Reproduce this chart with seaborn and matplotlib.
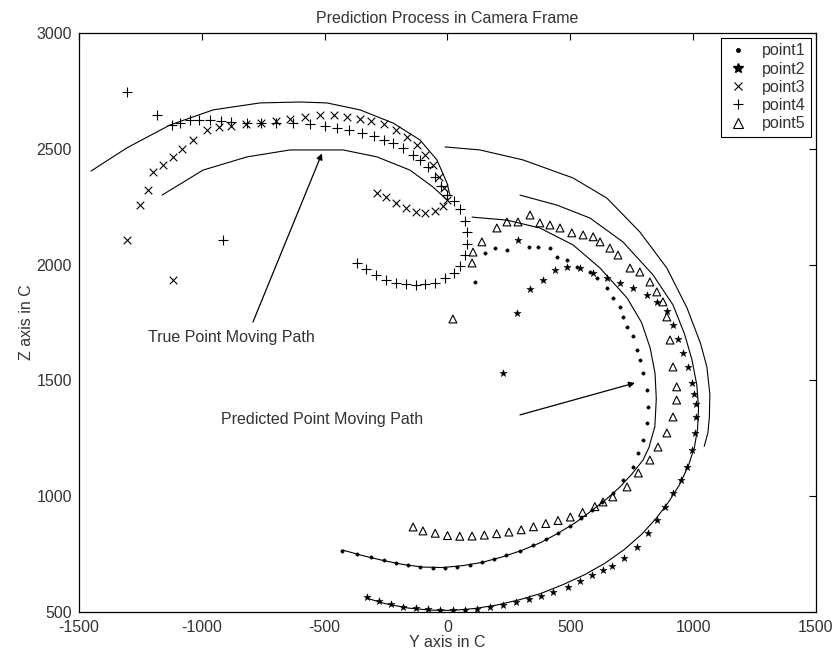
import matplotlib
matplotlib.use("Agg")
import matplotlib.pyplot as plt
import seaborn as sns
import pandas as pd
from matplotlib.lines import Line2D

# ---------------- data (Y axis in C, Z axis in C) ----------------
# true moving paths (solid lines)
true1_y = [100, 242, 376, 511, 621, 731, 790, 825, 845, 850, 844, 820, 796, 750, 702, 650, 590, 520, 450, 380, 300, 220, 140, 60, -20, -100, -180, -260, -340, -429]
true1_z = [2205, 2192, 2158, 2085, 1985, 1856, 1750, 1640, 1530, 1420, 1300, 1210, 1156, 1095, 1040, 990, 940, 885, 840, 800, 765, 737, 714, 700, 692, 694, 705, 722, 742, 768]
true2_y = [295, 445, 580, 714, 837, 918, 965, 995, 1015, 1022, 1018, 1005, 980, 945, 900, 850, 790, 720, 640, 560, 470, 380, 290, 200, 110, 20, -70, -160, -250, -330]
true2_z = [2300, 2257, 2201, 2098, 1955, 1826, 1700, 1590, 1480, 1380, 1290, 1210, 1130, 1050, 975, 905, 835, 770, 710, 662, 618, 580, 552, 530, 515, 507, 508, 517, 535, 560]
true3_y = [-1451, -1305, -1129, -954, -763, -600, -491, -356, -221, -112, -43, -2, 10]
true3_z = [2404, 2504, 2603, 2668, 2698, 2702, 2698, 2668, 2611, 2538, 2452, 2352, 2300]
true4_y = [-1162, -995, -816, -641, -425, -287, -153, -59, -2]
true4_z = [2300, 2408, 2465, 2495, 2495, 2465, 2408, 2335, 2279]
true5_y = [-10, 132, 307, 511, 649, 783, 893, 975, 1030, 1056, 1068, 1066, 1060, 1045]
true5_z = [2508, 2495, 2452, 2374, 2287, 2141, 1985, 1813, 1660, 1558, 1440, 1340, 1273, 1215]

# predicted points (markers)
p1_y = [112, 153, 193, 242, 330, 368, 417, 445, 486, 527, 580, 608, 649, 673, 702, 714, 730, 755, 771, 783, 796, 811, 816, 811, 796, 777, 755, 714, 673, 630, 590, 545, 498, 450, 400, 350, 295, 240, 190, 140, 92, 40, -10, -60, -110, -160, -210, -260, -310, -370, -429]
p1_z = [1925, 2050, 2071, 2063, 2076, 2076, 2071, 2033, 2020, 1990, 1968, 1942, 1899, 1856, 1817, 1774, 1731, 1690, 1631, 1588, 1532, 1459, 1385, 1316, 1243, 1187, 1126, 1070, 1014, 975, 940, 905, 870, 840, 815, 790, 765, 745, 728, 714, 703, 695, 690, 690, 695, 702, 712, 725, 738, 752, 765]
p2_y = [226, 283, 289, 336, 389, 437, 486, 540, 593, 649, 702, 755, 811, 852, 893, 918, 940, 959, 980, 995, 1005, 1010, 1010, 1007, 995, 974, 950, 918, 885, 852, 815, 771, 720, 670, 633, 590, 540, 490, 430, 380, 330, 280, 226, 175, 120, 70, 22, -30, -80, -130, -181, -230, -280, -328]
p2_z = [1532, 1791, 2106, 1895, 1933, 1977, 1990, 1985, 1964, 1942, 1920, 1899, 1869, 1839, 1800, 1740, 1680, 1620, 1558, 1490, 1440, 1400, 1340, 1273, 1200, 1126, 1070, 1014, 955, 897, 840, 781, 735, 700, 681, 660, 635, 610, 587, 570, 555, 542, 530, 520, 515, 510, 509, 510, 512, 516, 522, 533, 548, 565]
p3_y = [-287, -250, -210, -170, -130, -90, -50, -20, 0, -15, -35, -60, -90, -125, -165, -210, -260, -310, -356, -410, -460, -519, -580, -640, -700, -760, -820, -880, -930, -979, -1036, -1080, -1117, -1160, -1198, -1218, -1251, -1305, -1117]
p3_z = [2309, 2290, 2265, 2245, 2228, 2222, 2232, 2252, 2280, 2330, 2380, 2430, 2475, 2515, 2550, 2580, 2605, 2620, 2630, 2638, 2644, 2646, 2638, 2628, 2620, 2612, 2606, 2600, 2592, 2581, 2538, 2500, 2465, 2430, 2400, 2322, 2257, 2106, 1933]
p4_y = [-368, -330, -290, -250, -210, -170, -130, -90, -50, -10, 25, 50, 70, 80, 80, 70, 50, 25, 0, -25, -50, -80, -110, -140, -180, -220, -260, -300, -350, -400, -450, -500, -560, -629, -700, -760, -816, -880, -920, -967, -1010, -1048, -1090, -1121, -1182, -1305, -913]
p4_z = [2007, 1980, 1955, 1935, 1922, 1915, 1913, 1915, 1922, 1940, 1965, 1995, 2040, 2090, 2140, 2190, 2240, 2275, 2300, 2340, 2380, 2420, 2450, 2475, 2505, 2525, 2540, 2555, 2570, 2580, 2590, 2600, 2605, 2611, 2612, 2612, 2611, 2615, 2620, 2624, 2625, 2624, 2612, 2603, 2646, 2745, 2106]
p5_y = [22, 100, 104, 140, 201, 242, 287, 336, 376, 417, 458, 506, 552, 593, 621, 661, 694, 743, 783, 824, 852, 877, 893, 906, 918, 933, 933, 918, 893, 857, 824, 777, 731, 673, 633, 600, 550, 500, 450, 400, 350, 300, 250, 200, 150, 100, 50, 0, -50, -100, -140]
p5_z = [1765, 2007, 2054, 2098, 2158, 2184, 2184, 2214, 2180, 2171, 2158, 2137, 2128, 2120, 2098, 2071, 2041, 1985, 1968, 1925, 1882, 1839, 1774, 1674, 1558, 1472, 1415, 1342, 1273, 1212, 1156, 1100, 1040, 997, 975, 955, 930, 910, 895, 882, 868, 855, 845, 838, 832, 828, 827, 830, 840, 850, 867]

series_names = ["point1", "point2", "point3", "point4", "point5"]
x_ticks = [-1500, -1000, -500, 0, 500, 1000, 1500]
y_ticks = [500, 1000, 1500, 2000, 2500, 3000]

# ---------------- style ----------------
sns.set_style("white")
plt.rcParams["font.family"] = ["Liberation Sans", "DejaVu Sans"]
plt.rcParams["axes.unicode_minus"] = False
FS = 11.5
TXT = "#333333"

fig = plt.figure(figsize=(8.38, 6.57), dpi=100)
ax = fig.add_axes([0.0943, 0.0685, 0.8794, 0.8813])

# true paths
for ty, tz in [(true1_y, true1_z), (true2_y, true2_z), (true3_y, true3_z),
               (true4_y, true4_z), (true5_y, true5_z)]:
    df = pd.DataFrame({"y": ty, "z": tz})
    sns.lineplot(data=df, x="y", y="z", sort=False, estimator=None,
                 color="black", linewidth=0.8, ax=ax)

# predicted markers
marker_specs = [
    ("point1", p1_y, p1_z, "o", 6),
    ("point2", p2_y, p2_z, "*", 30),
    ("point3", p3_y, p3_z, "x", 30),
    ("point4", p4_y, p4_z, "+", 50),
    ("point5", p5_y, p5_z, "^", 32),
]
for name, my, mz, mk, sz in marker_specs:
    df = pd.DataFrame({"y": my, "z": mz})
    if mk in ("x", "+"):
        sns.scatterplot(data=df, x="y", y="z", marker=mk, s=sz, color="black",
                        linewidth=0.8, ax=ax)
    elif mk == "^":
        sns.scatterplot(data=df, x="y", y="z", marker=mk, s=sz, color="white",
                        edgecolor="black", linewidth=0.8, ax=ax)
        ax.collections[-1].set_facecolor("none")
    else:
        sns.scatterplot(data=df, x="y", y="z", marker=mk, s=sz, color="black",
                        edgecolor="black", linewidth=0.3, ax=ax)

# annotations
ax.text(-1219, 1687, "True Point Moving Path", fontsize=FS, va="center",
        ha="left", color=TXT)
ax.annotate("", xy=(-511, 2480), xytext=(-792, 1752),
            arrowprops=dict(arrowstyle="-|>", color="black", lw=0.9,
                            mutation_scale=9, shrinkA=0, shrinkB=0))
ax.text(-922, 1329, "Predicted Point Moving Path", fontsize=FS, va="center",
        ha="left", color=TXT)
ax.annotate("", xy=(763, 1489), xytext=(295, 1351),
            arrowprops=dict(arrowstyle="-|>", color="black", lw=0.9,
                            mutation_scale=9, shrinkA=0, shrinkB=0))

# axes
ax.set_xlim(-1500, 1500)
ax.set_ylim(500, 3000)
ax.set_xticks(x_ticks)
ax.set_yticks(y_ticks)
ax.set_xticklabels([str(v) for v in x_ticks])
ax.set_yticklabels([str(v) for v in y_ticks])
ax.tick_params(direction="in", top=True, right=True, length=5, width=0.8,
               labelsize=FS, colors="black", labelcolor=TXT)
ax.tick_params(axis="x", pad=6)
ax.tick_params(axis="y", pad=5)
for sp in ax.spines.values():
    sp.set_color("black")
    sp.set_linewidth(0.9)
ax.set_xlabel("Y axis in C", fontsize=FS, labelpad=0, color=TXT)
ax.set_ylabel("Z axis in C", fontsize=FS, labelpad=2, color=TXT)
ax.set_title("Prediction Process in Camera Frame", fontsize=FS, pad=7, color=TXT)

# legend
handles = [
    Line2D([], [], linestyle="none", marker="o", markersize=2.5, color="black"),
    Line2D([], [], linestyle="none", marker="*", markersize=7, color="black"),
    Line2D([], [], linestyle="none", marker="x", markersize=5.5, color="black", markeredgewidth=0.8),
    Line2D([], [], linestyle="none", marker="+", markersize=7, color="black", markeredgewidth=0.8),
    Line2D([], [], linestyle="none", marker="^", markersize=7, markerfacecolor="none",
           markeredgecolor="black", markeredgewidth=0.8),
]
leg = ax.legend(handles, series_names, loc="upper right", fontsize=FS,
                frameon=True, fancybox=False, framealpha=1, edgecolor="black",
                borderpad=0.35, labelspacing=0.2, handlelength=1.4,
                handletextpad=0.8, borderaxespad=0.3)
leg.get_frame().set_linewidth(0.8)
for t in leg.get_texts():
    t.set_color(TXT)

fig.savefig("out.png", dpi=100)
